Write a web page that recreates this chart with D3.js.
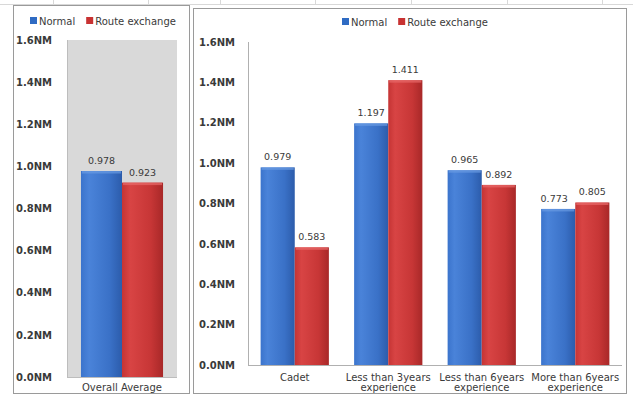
<!DOCTYPE html>
<html>
<head>
<meta charset="utf-8">
<script src="https://cdn.jsdelivr.net/npm/d3@7/dist/d3.min.js"></script>
<style>
  html, body { margin: 0; padding: 0; background: #fff; }
  svg { display: block; }
  text { font-family: "DejaVu Sans", Verdana, sans-serif; fill: #3a3a3a; }
</style>
</head>
<body>
<svg id="chart" width="633" height="398"></svg>
<script>
// Series
const seriesNames = ["Normal", "Route exchange"];
const overallCategories = ["Overall Average"];
const overallNormal = [0.978];
const overallRoute = [0.923];
const groupCategories = [
  ["Cadet"],
  ["Less than 3years", "experience"],
  ["Less than 6years", "experience"],
  ["More than 6years", "experience"]
];
const groupNormal = [0.979, 1.197, 0.965, 0.773];
const groupRoute = [0.583, 1.411, 0.892, 0.805];
const yTicks = [0, 0.2, 0.4, 0.6, 0.8, 1.0, 1.2, 1.4, 1.6];

const svg = d3.select("#chart");
const defs = svg.append("defs");

function makeGrad(id, stops) {
  const g = defs.append("linearGradient").attr("id", id)
    .attr("x1", "0%").attr("x2", "100%").attr("y1", "0%").attr("y2", "0%");
  stops.forEach(s => g.append("stop").attr("offset", s[0]).attr("stop-color", s[1]));
}
makeGrad("gBlue", [["0%", "#3b74cc"], ["20%", "#4a83d9"], ["70%", "#3a71c7"], ["100%", "#2c5cab"]]);
makeGrad("gRed", [["0%", "#c53434"], ["20%", "#d84444"], ["70%", "#c73636"], ["100%", "#a82828"]]);
const colors = ["url(#gBlue)", "url(#gRed)"];
const topColors = ["#6a9be2", "#e86a6a"];
const swatch = ["#2f6bc3", "#c83232"];

// faint sheet grid behind the panels
const sheet = svg.append("g");
sheet.append("line").attr("x1", 0).attr("x2", 633).attr("y1", 4.5).attr("y2", 4.5)
  .attr("stroke", "#d8d8d8");
[53, 148, 220, 315, 411, 507, 602].forEach(x => {
  sheet.append("line").attr("x1", x + 0.5).attr("x2", x + 0.5).attr("y1", 0).attr("y2", 5)
    .attr("stroke", "#d8d8d8");
});

function legend(g, x, y) {
  let cx = x;
  seriesNames.forEach((name, i) => {
    g.append("rect").attr("x", cx).attr("y", y - 4).attr("width", 7).attr("height", 7)
      .attr("fill", swatch[i]);
    const t = g.append("text").attr("x", cx + 9).attr("y", y + 3.5)
      .attr("font-size", 10).text(name);
    cx += 9 + t.node().getComputedTextLength() + 11;
  });
}

function drawBars(g, cats, normal, route, x0, x1, y, padInner, padOuter, labelOffsets) {
  const x = d3.scaleBand().domain(d3.range(cats.length)).range([x0, x1])
    .paddingInner(padInner).paddingOuter(padOuter);
  const xs = d3.scaleBand().domain([0, 1]).range([0, x.bandwidth()]);
  [normal, route].forEach((vals, s) => {
    vals.forEach((v, i) => {
      const bx = x(i) + xs(s), bw = xs.bandwidth();
      const top = y(v), h = y(0) - y(v);
      g.append("rect").attr("x", bx).attr("y", top).attr("width", bw).attr("height", h)
        .attr("fill", colors[s]);
      g.append("rect").attr("x", bx + 1).attr("y", top).attr("width", bw - 2).attr("height", 2.5)
        .attr("fill", topColors[s]).attr("opacity", 0.7);
      const off = labelOffsets ? labelOffsets[s][i] : 0;
      g.append("text").attr("x", bx + bw / 2 + off).attr("y", top - 7)
        .attr("text-anchor", "middle").attr("font-size", 9.5)
        .text(d3.format(".3f")(v));
    });
  });
  return x;
}

// ---------- left panel: overall average ----------
const left = svg.append("g");
left.append("rect").attr("x", 13.5).attr("y", 5.5).attr("width", 176).attr("height", 388)
  .attr("fill", "#fff").attr("stroke", "#9a9a9a");
legend(left, 30, 21);

const yL = d3.scaleLinear().domain([0, 1.6]).range([377, 40]);
left.append("rect").attr("x", 67).attr("y", yL(1.6)).attr("width", 110)
  .attr("height", yL(0) - yL(1.6)).attr("fill", "#d9d9d9");
left.append("line").attr("x1", 67.5).attr("x2", 67.5).attr("y1", yL(1.6)).attr("y2", yL(0))
  .attr("stroke", "#bdbdbd");
left.append("line").attr("x1", 67).attr("x2", 177).attr("y1", yL(0) + 0.5).attr("y2", yL(0) + 0.5)
  .attr("stroke", "#bdbdbd");
const axL = left.append("g").attr("transform", "translate(52,0)")
  .call(d3.axisLeft(yL).tickValues(yTicks).tickSize(0).tickPadding(0)
    .tickFormat(d => d3.format(".1f")(d) + "NM"));
axL.select(".domain").remove();
axL.selectAll("text").attr("font-size", 10).attr("font-weight", "bold")
  .attr("fill", "#555").attr("font-family", "'DejaVu Sans', sans-serif");

const xL = drawBars(left, overallCategories, overallNormal, overallRoute, 67, 177, yL, 0, 0.17);
left.append("text").attr("x", xL(0) + xL.bandwidth() / 2).attr("y", 391)
  .attr("text-anchor", "middle").attr("font-size", 10).text(overallCategories[0]);

// ---------- right panel: by experience ----------
const right = svg.append("g");
right.append("rect").attr("x", 193.5).attr("y", 8.5).attr("width", 433).attr("height", 385)
  .attr("fill", "#fff").attr("stroke", "#9a9a9a");
legend(right, 342, 22);

const yR = d3.scaleLinear().domain([0, 1.6]).range([365, 42]);
const axR = right.append("g").attr("transform", "translate(235,0)")
  .call(d3.axisLeft(yR).tickValues(yTicks).tickSize(0).tickPadding(0)
    .tickFormat(d => d3.format(".1f")(d) + "NM"));
axR.select(".domain").remove();
axR.selectAll("text").attr("font-size", 10).attr("font-weight", "bold")
  .attr("fill", "#555").attr("font-family", "'DejaVu Sans', sans-serif");
right.append("line").attr("x1", 248.5).attr("x2", 248.5).attr("y1", yR(1.6)).attr("y2", yR(0))
  .attr("stroke", "#b0b0b0");
right.append("line").attr("x1", 248).attr("x2", 622).attr("y1", yR(0) + 0.5).attr("y2", yR(0) + 0.5)
  .attr("stroke", "#b0b0b0");

const xR = drawBars(right, groupCategories, groupNormal, groupRoute, 248, 622, yR, 0.27, 0.135,
  [[0, 0, 0, -4], [0, 0, 0, 0]]);
groupCategories.forEach((lines, i) => {
  const t = right.append("text").attr("x", xR(i) + xR.bandwidth() / 2).attr("y", 380.5)
    .attr("text-anchor", "middle").attr("font-size", 10);
  lines.forEach((l, k) => t.append("tspan").attr("x", xR(i) + xR.bandwidth() / 2)
    .attr("dy", k === 0 ? 0 : 10.5).text(l));
});
</script>
</body>
</html>
